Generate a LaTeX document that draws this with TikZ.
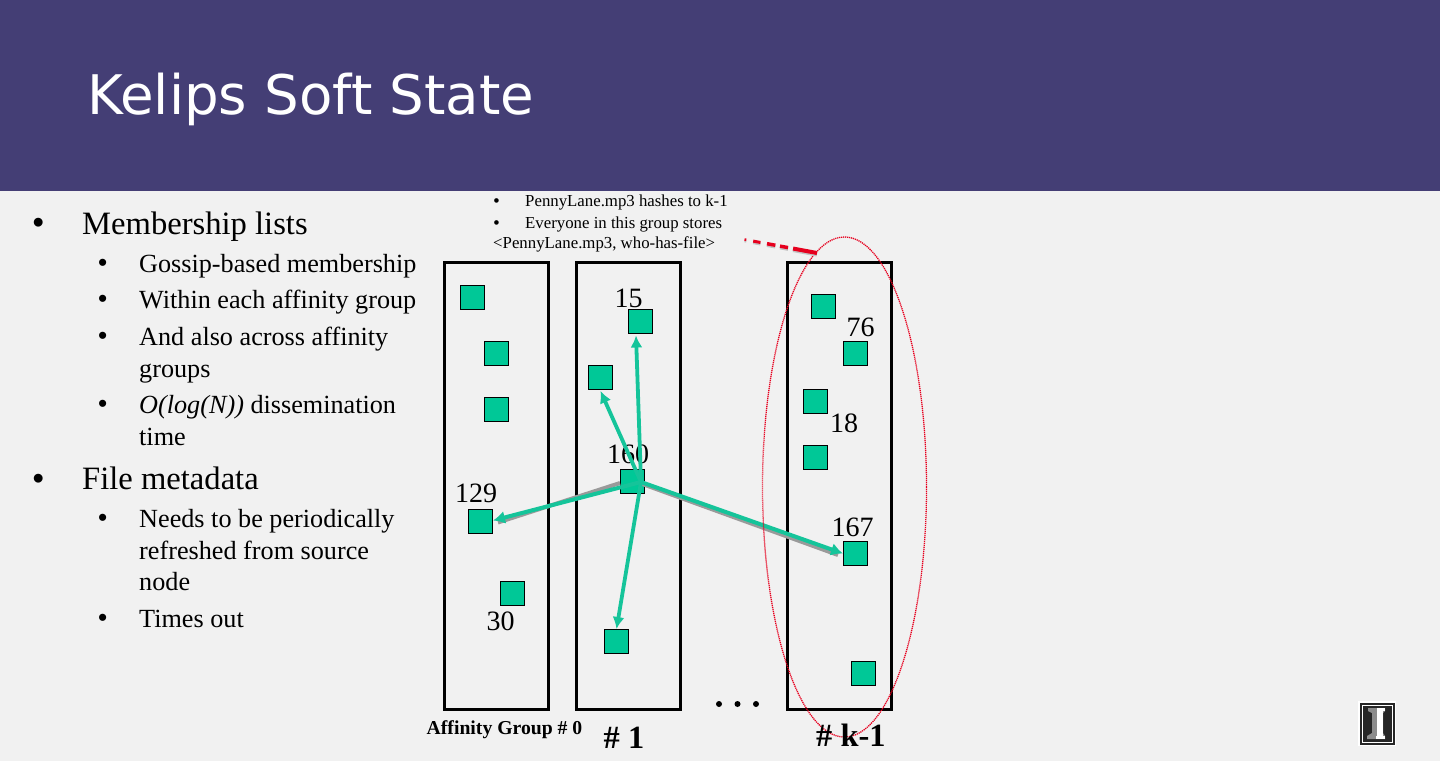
\documentclass[tikz,border=0pt]{standalone}
\usepackage{fontspec}
\setmainfont{Liberation Serif}
\newfontfamily\titlefont{DejaVu Sans}
\newfontfamily\bulletfont{Liberation Sans}
\usetikzlibrary{arrows.meta,shapes.geometric,calc}
\definecolor{bannerc}{HTML}{443E75}
\definecolor{pagec}{HTML}{F1F1F1}
\definecolor{nodec}{HTML}{00C897}
\definecolor{arrowc}{HTML}{15C49A}
\definecolor{shadowc}{HTML}{9A9A9A}
\definecolor{redc}{HTML}{E6001E}
\newcommand{\fs}[1]{\fontsize{#1}{#1}\selectfont}
\tikzset{
  x=1pt,y=-1pt,
  groupbox/.style={draw=black,line width=3pt,fill=none,rectangle,minimum width=104pt,minimum height=447pt,inner sep=0pt},
  member/.style={draw=black,line width=1pt,fill=nodec,rectangle,minimum width=24pt,minimum height=24pt,inner sep=0pt},
  num/.style={font=\fs{28},inner sep=0pt,text=black},
  lvlone/.style={font=\fs{32.6},anchor=base west,inner sep=0pt,text=black},
  lvltwo/.style={font=\fs{26.2},anchor=base west,inner sep=0pt,text=black},
  note/.style={font=\fs{16.8},anchor=base west,inner sep=0pt,text=black},
  gossip/.style={draw=arrowc,line width=3.8pt,-{Latex[length=12pt,width=12pt]}},
  gossipwide/.style={draw=arrowc,line width=4pt,-{Latex[length=12pt,width=13pt]}},
  gossipshadow/.style={draw=shadowc,line width=4pt},
}
\begin{document}
\begin{tikzpicture}
\useasboundingbox (0,0) rectangle (1440,761);
\fill[pagec] (0,0) rectangle (1440,761);
\fill[bannerc] (0,0) rectangle (1440,191);
\node[anchor=base west,inner sep=0pt,text=white,font=\titlefont\fs{54.6}] (title) at (87,114) {Kelips Soft State};

% left text
\node[lvlone] (b1d) at (32.3,233.5) {\bulletfont•};
\node[lvlone] (b1) at (82,234) {Membership lists};
\node[lvltwo] (d1) at (98,271) {\bulletfont•};
\node[lvltwo] (t1) at (139,272) {Gossip-based membership};
\node[lvltwo] (d2) at (98,307.5) {\bulletfont•};
\node[lvltwo] (t2) at (139,308) {Within each affinity group};
\node[lvltwo] (d3) at (98,344) {\bulletfont•};
\node[lvltwo] (t3) at (139,345) {And also across affinity};
\node[lvltwo] (t3b) at (139,377) {groups};
\node[lvltwo] (d4) at (98,412) {\bulletfont•};
\node[lvltwo] (t4) at (139,413) {\textit{O(log(N))} dissemination};
\node[lvltwo] (t4b) at (139,445) {time};
\node[lvlone] (b2d) at (32.3,489) {\bulletfont•};
\node[lvlone] (b2) at (82,489.5) {File metadata};
\node[lvltwo] (d5) at (98,526) {\bulletfont•};
\node[lvltwo] (t5) at (139,527) {Needs to be periodically};
\node[lvltwo] (t5b) at (139,559) {refreshed from source};
\node[lvltwo] (t5c) at (139,590) {node};
\node[lvltwo] (d6) at (98,626) {\bulletfont•};
\node[lvltwo] (t6) at (139,627) {Times out};

% note
\node[note] (nd1) at (493.5,206) {\bulletfont•};
\node[note] (n1) at (525,206) {PennyLane.mp3 hashes to k-1};
\node[note] (nd2) at (493.5,228) {\bulletfont•};
\node[note] (n2) at (525,228) {Everyone in this group stores};
\node[note] (n3) at (493,248) {<PennyLane.mp3, who-has-file>};

% group boxes
\node[groupbox] (g0) at (496.5,486) {};
\node[groupbox] (g1) at (628.5,486) {};
\node[groupbox] (g2) at (839.5,486) {};

% members
\node[member] (a1) at (472.5,297.5) {};
\node[member] (a2) at (496.5,353.5) {};
\node[member] (a3) at (496.5,409.5) {};
\node[member] (a4) at (480.5,521.5) {};
\node[member] (a5) at (512.5,593.5) {};
\node[member] (b15) at (640.5,321.5) {};
\node[member] (b2n) at (600.5,377.5) {};
\node[member] (b160) at (632.5,481.5) {};
\node[member] (b4) at (616.5,641.5) {};
\node[member] (c1) at (823.5,306) {};
\node[member] (c2) at (855.5,353.5) {};
\node[member] (c3) at (815.5,401.5) {};
\node[member] (c4) at (815.5,457.5) {};
\node[member] (c5) at (855.5,553.5) {};
\node[member] (c6) at (863.5,673.5) {};

% numbers
\node[num,anchor=base] (l15) at (628.5,307) {15};
\node[num,anchor=base] (l76) at (860.5,336) {76};
\node[num,anchor=base] (l18) at (844,432) {18};
\node[num,anchor=base] (l160) at (628,463) {160};
\node[num,anchor=base] (l129) at (476,502) {129};
\node[num,anchor=base] (l167) at (852.5,536) {167};
\node[num,anchor=base] (l30) at (500.5,630) {30};

% gossip arrows
\coordinate (src) at (641,482);
\draw[gossipshadow] ([yshift=-1.5pt]b160.west) -- ([xshift=5pt,yshift=-1pt]a4.east);
\draw[gossipshadow] ([yshift=-1.5pt]src) -- ([xshift=-5pt,yshift=-1.5pt]c5.west);
\draw[gossipwide] (src) -- ([yshift=1pt]a4.east);
\draw[gossipwide] (src) -- (c5.west);
\draw[gossip] (src) -- ([xshift=-4.5pt,yshift=-1.5pt]b15.south);
\draw[gossip] (src) -- ([yshift=-1pt]b2n.south);
\draw[gossip] (src) -- (b4.north);

% red ellipse and pointer
\node[draw=redc,line width=1.3pt,dash pattern=on 1.2pt off 0.8pt,ellipse,minimum width=164pt,minimum height=500pt,inner sep=0pt] (group) at (844.5,487) {};
\coordinate (penstart) at (744.5,239.5);
\coordinate (penend) at (817,253);
\foreach \a/\b/\w in {0/.025/2.5, .12/.22/3, .31/.425/3.5, .49/.6/3.5, .67/1/4}{
  \draw[draw=shadowc!60,line width=\w pt] ($(penstart)!\a!(penend)+(0,1.5)$) -- ($(penstart)!\b!(penend)+(0,1.5)$);
  \draw[draw=redc,line width=\w pt] ($(penstart)!\a!(penend)$) -- ($(penstart)!\b!(penend)$);
}

% dots
\fill[black] (719,704) circle (3pt);
\fill[black] (737.5,704) circle (3pt);
\fill[black] (756,704) circle (3pt);

% captions
\node[anchor=base west,inner sep=0pt,font=\fs{19.7}\bfseries] (cap0) at (426.5,734) {Affinity Group \# 0};
\node[anchor=base west,inner sep=0pt,font=\fs{32.4}\bfseries] (cap1) at (603.5,748) {\# 1};
\node[anchor=base west,inner sep=0pt,font=\fs{32.4}\bfseries] (cap2) at (816,746) {\# k-1};

% logo
\fill[white] (1358,701) rectangle (1396,746);
\fill[black!85] (1359.5,702.5) rectangle (1394.5,744.5);
\draw[white,line width=1pt] (1362,705) rectangle (1392,742);
\fill[black!45] (1368,708) -- (1385,708) -- (1385,711) -- (1383,713) -- (1383,733) -- (1385,736) -- (1385,739) -- (1367,739) -- (1367,736) -- (1372,733) -- (1372,713) -- (1368,711) -- cycle;
\fill[white] (1377,711) rectangle (1383,736);
\fill[white] (1377,708) rectangle (1385,711);
\fill[white] (1376,736) rectangle (1385,739);
\end{tikzpicture}
\end{document}
